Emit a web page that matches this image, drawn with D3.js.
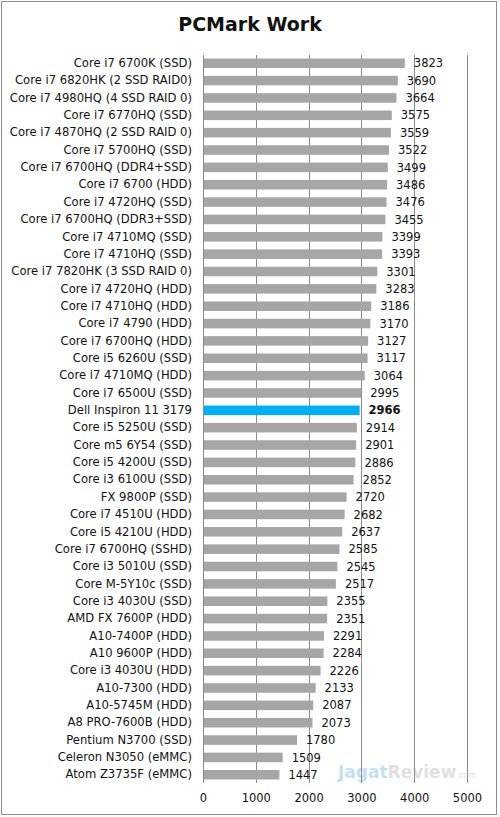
<!DOCTYPE html>
<html>
<head>
<meta charset="utf-8">
<script src="https://cdn.jsdelivr.net/npm/d3@7"></script>
<style>
  body { margin: 0; background: #fff; }
  svg { display: block; }
</style>
</head>
<body>
<div id="chart"></div>
<script>
// chart data
var names = [
  "Core i7 6700K (SSD)", "Core i7 6820HK (2 SSD RAID0)", "Core i7 4980HQ (4 SSD RAID 0)",
  "Core i7 6770HQ (SSD)", "Core i7 4870HQ (2 SSD RAID 0)", "Core i7 5700HQ (SSD)",
  "Core i7 6700HQ (DDR4+SSD)", "Core i7 6700 (HDD)", "Core i7 4720HQ (SSD)",
  "Core i7 6700HQ (DDR3+SSD)", "Core i7 4710MQ (SSD)", "Core i7 4710HQ (SSD)",
  "Core i7 7820HK (3 SSD RAID 0)", "Core i7 4720HQ (HDD)", "Core i7 4710HQ (HDD)",
  "Core i7 4790 (HDD)", "Core i7 6700HQ (HDD)", "Core i5 6260U (SSD)",
  "Core i7 4710MQ (HDD)", "Core i7 6500U (SSD)", "Dell Inspiron 11 3179",
  "Core i5 5250U (SSD)", "Core m5 6Y54 (SSD)", "Core i5 4200U (SSD)",
  "Core i3 6100U (SSD)", "FX 9800P (SSD)", "Core i7 4510U (HDD)",
  "Core i5 4210U (HDD)", "Core i7 6700HQ (SSHD)", "Core i3 5010U (SSD)",
  "Core M-5Y10c (SSD)", "Core i3 4030U (SSD)", "AMD FX 7600P (HDD)",
  "A10-7400P (HDD)", "A10 9600P (HDD)", "Core i3 4030U (HDD)",
  "A10-7300 (HDD)", "A10-5745M (HDD)", "A8 PRO-7600B (HDD)",
  "Pentium N3700 (SSD)", "Celeron N3050 (eMMC)", "Atom Z3735F (eMMC)"
];
var scores = [
  3823, 3690, 3664, 3575, 3559, 3522, 3499, 3486, 3476, 3455, 3399, 3393,
  3301, 3283, 3186, 3170, 3127, 3117, 3064, 2995, 2966, 2914, 2901, 2886,
  2852, 2720, 2682, 2637, 2585, 2545, 2517, 2355, 2351, 2291, 2284, 2226,
  2133, 2087, 2073, 1780, 1509, 1447
];
var highlight = "Dell Inspiron 11 3179";
var xTicks = [0, 1000, 2000, 3000, 4000, 5000];
var title = "PCMark Work";

var W = 500, H = 817;
var margin = {top: 55, right: 33, bottom: 34, left: 203};
var width = W - margin.left - margin.right,
    height = H - margin.top - margin.bottom;

var svg = d3.select("#chart").append("svg")
    .attr("width", W)
    .attr("height", H);

// outer frame
svg.append("rect")
    .attr("x", 1.5).attr("y", 1.5)
    .attr("width", W - 5).attr("height", H - 4)
    .attr("fill", "#fff")
    .attr("stroke", "#8c8c8c");

svg.append("text")
    .attr("x", W / 2).attr("y", 31)
    .attr("text-anchor", "middle")
    .attr("font-family", "DejaVu Sans")
    .attr("font-weight", "bold")
    .attr("font-size", 19)
    .attr("fill", "#111")
    .text(title);

var g = svg.append("g")
    .attr("transform", "translate(" + margin.left + "," + margin.top + ")");

var x = d3.scaleLinear().domain([0, 5000]).range([0, width]);
var y = d3.scaleBand().domain(names).range([0, height]).paddingInner(0.45).paddingOuter(0.2);

// watermark (kept clear of the labels)
var wm = svg.append("text")
    .attr("x", 338).attr("y", 778)
    .attr("font-family", "DejaVu Sans")
    .attr("font-weight", "bold")
    .attr("font-size", 17)
    .attr("opacity", 0.3);
wm.append("tspan").attr("fill", "#3d9bd6").text("Jagat");
wm.append("tspan").attr("fill", "#9a9a9a").text("Review");
wm.append("tspan").attr("fill", "#9a9a9a").attr("font-size", 8).attr("font-weight", "normal").text(".com");

// vertical grid
g.selectAll(".grid")
    .data(xTicks)
  .enter().append("line")
    .attr("class", "grid")
    .attr("x1", function(d) { return Math.round(x(d)) + 0.5; })
    .attr("x2", function(d) { return Math.round(x(d)) + 0.5; })
    .attr("y1", 0)
    .attr("y2", height)
    .attr("stroke", "#8a8a8a")
    .attr("stroke-width", 1);

// bars
g.selectAll(".bar")
    .data(names)
  .enter().append("rect")
    .attr("class", "bar")
    .attr("x", x(0) + 1)
    .attr("y", function(d) { return y(d); })
    .attr("width", function(d, i) { return x(scores[i]) - 1; })
    .attr("height", y.bandwidth())
    .attr("fill", function(d) { return d == highlight ? "#00b0f0" : "#a6a6a6"; });

// value labels
g.selectAll(".val")
    .data(names)
  .enter().append("text")
    .attr("class", "val")
    .attr("x", function(d, i) { return x(scores[i]) + 9; })
    .attr("y", function(d) { return y(d) + y.bandwidth() / 2; })
    .attr("dy", "0.36em")
    .attr("font-family", "DejaVu Sans")
    .attr("font-size", 11.5)
    .attr("font-weight", function(d) { return d == highlight ? "bold" : "normal"; })
    .attr("fill", "#111")
    .text(function(d, i) { return scores[i]; });

// category labels
var yAxis = g.append("g")
    .call(d3.axisLeft(y).tickSize(0).tickPadding(11));
yAxis.select(".domain").remove();
yAxis.selectAll("text")
    .attr("font-family", "DejaVu Sans")
    .attr("font-size", 11.6)
    .attr("fill", "#111");

// x axis labels
var xAxis = g.append("g")
    .attr("transform", "translate(0," + height + ")")
    .call(d3.axisBottom(x).tickValues(xTicks).tickSize(0).tickPadding(11).tickFormat(d3.format("d")));
xAxis.select(".domain").remove();
xAxis.selectAll("text")
    .attr("font-family", "DejaVu Sans")
    .attr("font-size", 11.5)
    .attr("fill", "#111");
</script>
</body>
</html>
